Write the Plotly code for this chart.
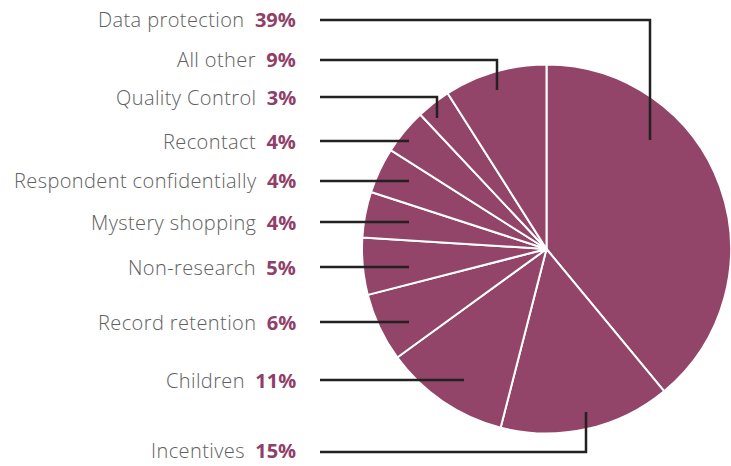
import plotly.graph_objects as go

categories = ["Data protection", "Incentives", "Children", "Record retention", "Non-research",
              "Mystery shopping", "Respondent confidentially", "Recontact", "Quality Control", "All other"]
values = [39, 15, 11, 6, 5, 4, 4, 4, 3, 9]

# label layout (pixel positions in the 731x466 canvas): label y, leader end x, leader end y
label_y = [20, 452, 380, 322, 267, 222, 181, 141, 97, 60]
leader_end_x = [650, 586, 464, 409, 409, 409, 409, 409, 437, 497]
leader_end_y = [140, 412, 380, 322, 267, 222, 181, 141, 118, 90]

W, H = 731, 466
PIE_COLOR = "#924469"
PCT_COLOR = "#8f3f6a"
TEXT_COLOR = "#606060"
LINE_COLOR = "#222222"

fig = go.Figure(go.Pie(
    labels=categories, values=values, sort=False, direction="clockwise", rotation=0,
    marker=dict(colors=[PIE_COLOR] * len(values), line=dict(color="white", width=2)),
    textinfo="none", hoverinfo="label+percent",
    domain=dict(x=[362 / W, 1], y=[(H - 435) / H, (H - 63) / H]),
))

def px(x):
    return x / W

def py(y):
    return 1 - y / H

shapes = []
annotations = []
for cat, v, ly, ex, ey in zip(categories, values, label_y, leader_end_x, leader_end_y):
    annotations.append(dict(
        x=px(298), y=py(min(ly, 450)), xref="paper", yref="paper", xanchor="right", yanchor="middle",
        showarrow=False,
        text=(f"<span style='letter-spacing:0.4px'>{cat}</span>  "
              f"<span style='color:{PCT_COLOR}'><b>{v}%</b></span>"),
        font=dict(family="Open Sans", size=20, color=TEXT_COLOR, weight=300),
    ))
    pts = [(320, ly), (ex, ly)]
    if ey != ly:
        pts.append((ex, ey))
    path = "M " + " L ".join(f"{px(x)},{py(y)}" for x, y in pts)
    shapes.append(dict(type="path", path=path, xref="paper", yref="paper",
                       line=dict(color=LINE_COLOR, width=2.5)))

fig.update_layout(
    width=W, height=H, margin=dict(l=0, r=0, t=0, b=0),
    paper_bgcolor="white", plot_bgcolor="white", showlegend=False,
    shapes=shapes, annotations=annotations,
)

fig.write_html("out.html")
